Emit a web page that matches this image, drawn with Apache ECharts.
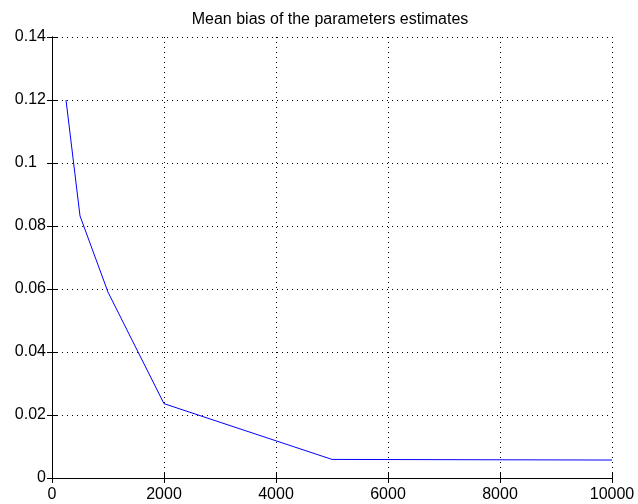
<!DOCTYPE html>
<html>
<head>
<meta charset="utf-8">
<script src="https://cdn.jsdelivr.net/npm/echarts@6/dist/echarts.min.js"></script>
<style>html,body{margin:0;padding:0;background:#fff;}#c{width:638px;height:504px;}</style>
</head>
<body>
<div id="c"></div>
<script>
var sampleSizes = [250, 500, 1000, 2000, 5000, 10000];
var meanBias = [0.120, 0.0832, 0.0590, 0.0236, 0.0059, 0.0057];
var titleText = 'Mean bias of the parameters estimates';

var chart = echarts.init(document.getElementById('c'), null, {renderer: 'canvas'});
var font = 'Liberation Sans, Arial, Helvetica, sans-serif';
var gridLine = {show: true, lineStyle: {color: '#000', width: 1, type: [1, 4]}};
var tick = {show: true, inside: true, length: 5, lineStyle: {color: '#000'}};
var axisLine = {show: true, lineStyle: {color: '#000', width: 1}};
chart.setOption({
  animation: false,
  backgroundColor: '#fff',
  title: {
    text: titleText, left: 325, top: 7, textAlign: 'center',
    textStyle: {fontFamily: font, fontSize: 16, fontWeight: 'normal', color: '#000'}
  },
  grid: {left: 52, right: 26, top: 37, bottom: 26, containLabel: false},
  xAxis: [{
    type: 'value', min: 0, max: 10000, interval: 2000,
    axisLine: axisLine, axisTick: tick,
    splitLine: gridLine,
    axisLabel: {color: '#000', fontFamily: font, fontSize: 16, margin: 9,
      formatter: function (v) { return String(v); }}
  }, {
    type: 'value', position: 'top', min: 0, max: 10000, interval: 2000,
    axisLine: axisLine, axisTick: tick, axisLabel: {show: false}, splitLine: {show: false}
  }],
  yAxis: [{
    type: 'value', min: 0, max: 0.14, interval: 0.02,
    axisLine: axisLine, axisTick: tick,
    splitLine: gridLine,
    axisLabel: {color: '#000', fontFamily: font, fontSize: 16, margin: 6,
      formatter: function (v) {
        var s = String(Math.round(v * 100) / 100);
        return s.length === 3 ? '{p|' + s + '}' : s;
      },
      rich: {p: {fontFamily: font, fontSize: 16, color: '#000', padding: [0, 9, 0, 0]}}
    }
  }, {
    type: 'value', position: 'right', min: 0, max: 0.14, interval: 0.02,
    axisLine: axisLine, axisTick: tick, axisLabel: {show: false}, splitLine: {show: false}
  }],
  series: [{
    type: 'line',
    data: sampleSizes.map(function (x, i) { return [x, meanBias[i]]; }),
    symbol: 'none',
    lineStyle: {color: '#0000ff', width: 1},
    z: 3
  }]
});
</script>
</body>
</html>
